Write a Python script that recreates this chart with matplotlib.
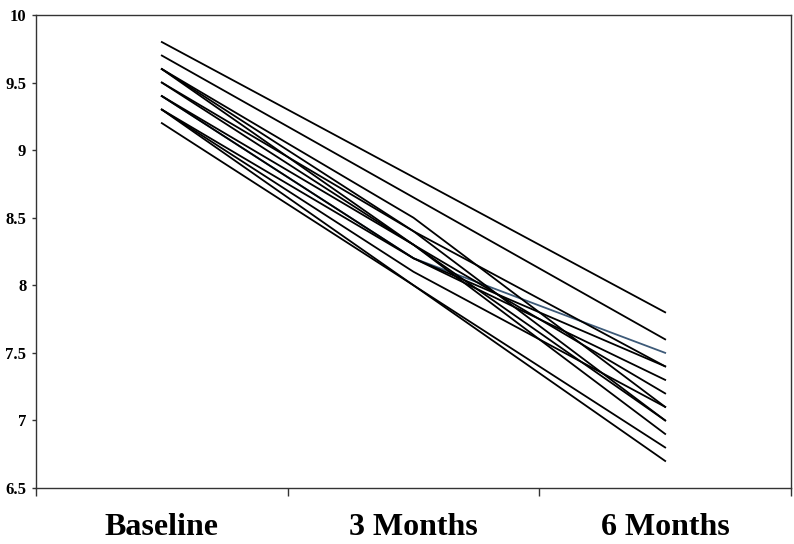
import matplotlib
matplotlib.use("Agg")
import matplotlib.pyplot as plt
from matplotlib.ticker import FixedLocator, NullFormatter

categories = ["Baseline", "3 Months", "6 Months"]

# each list: values at Baseline, 3 Months, 6 Months
s01 = [9.8, 8.80, 7.8]
s02 = [9.7, 8.65, 7.6]
s03 = [9.6, 8.50, 7.1]
s04 = [9.6, 8.40, 7.4]
s05 = [9.5, 8.30, 7.2]
s06 = [9.5, 8.40, 7.0]
s07 = [9.4, 8.20, 7.3]
s08 = [9.4, 8.30, 6.9]
s09 = [9.3, 8.10, 7.1]
s10 = [9.3, 8.00, 6.8]
s11 = [9.2, 8.00, 6.7]
s12 = [9.6, 8.30, 7.0]
s13 = [9.3, 8.20, 7.4]
s_blue = [9.4, 8.20, 7.5]

black_series = [s01, s02, s03, s04, s05, s06, s07, s08, s09, s10, s11, s12, s13]

yticks = [6.5, 7, 7.5, 8, 8.5, 9, 9.5, 10]
ytick_labels = ["6.5", "7", "7.5", "8", "8.5", "9", "9.5", "10"]

fig = plt.figure(figsize=(7.94, 5.44), dpi=100)
ax = fig.add_axes([36/794, 1-488/544, (791-36)/794, (488-15)/544])

x = list(range(len(categories)))
ax.plot(x, s_blue, color="#3d5a78", lw=1.3, zorder=2)
for s in black_series:
    ax.plot(x, s, color="black", lw=1.3, zorder=3)

ax.set_xlim(-0.5, len(categories) - 0.5)
ax.set_ylim(6.5, 10)

ax.xaxis.set_major_locator(FixedLocator([-0.5, 0.5, 1.5, 2.5]))
ax.xaxis.set_major_formatter(NullFormatter())
ax.xaxis.set_minor_locator(FixedLocator(x))
ax.set_xticklabels(categories, minor=True, fontsize=23, fontweight="bold",
                   family=["Liberation Serif", "DejaVu Serif"])
ax.tick_params(axis="x", which="major", direction="out", length=6, width=1, color="#333333")
ax.tick_params(axis="x", which="minor", length=0, pad=18)

ax.set_yticks(yticks)
ax.set_yticklabels(ytick_labels, fontsize=12, fontweight="bold",
                   family=["Liberation Serif", "DejaVu Serif"])
ax.tick_params(axis="y", direction="out", length=3, width=1, pad=4, color="#333333")

for sp in ax.spines.values():
    sp.set_color("#333333")
    sp.set_linewidth(1)

fig.savefig("out.png", dpi=100, facecolor="white")
